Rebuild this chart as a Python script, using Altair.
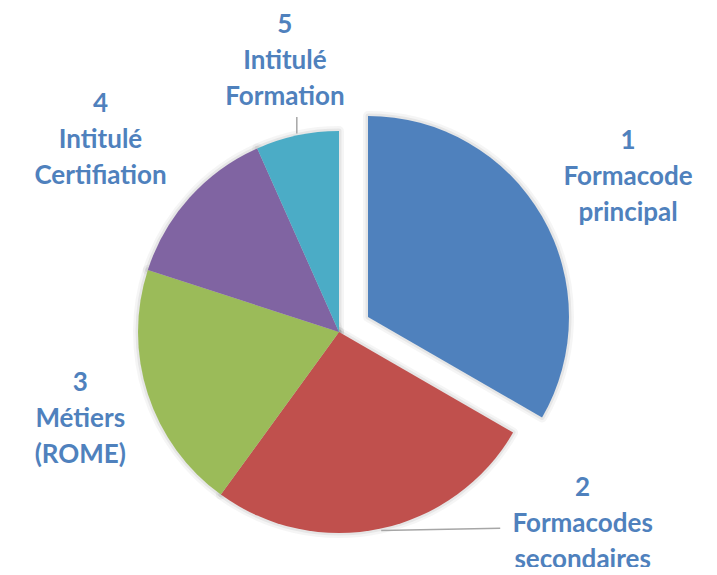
import math
import altair as alt
import pandas as pd

# ---- data ----
categories = ["1", "2", "3", "4", "5"]
values = [5, 4, 3, 2, 1]
labels = [
    "1\nFormacode\nprincipal",
    "2\nFormacodes\nsecondaires",
    "3\nMétiers\n(ROME)",
    "4\nIntitulé\nCertifiation",
    "5\nIntitulé\nFormation",
]
colors = ["#4F81BD", "#C0504D", "#9BBB59", "#8064A2", "#4BACC6"]

# ---- layout / style ----
W, H = 701, 559
CX, CY = 331, 324
R = 201
EXPLODED = "1"
EX_DX, EX_DY = 29, -15
LINE_H = 36
label_radius = [328, 310, 273, 306, 276]
label_nudge_deg = [1.8, -39.8, -0.6, -3.2, 0.7]
leader_cats = ["2", "5"]
leader_end_radius = [254, 219]
leader_end_deg = [140.6, 348.9]
LABEL_COLOR = "#4F81BD"

total = sum(values)
df = pd.DataFrame({
    "cat": categories,
    "value": values,
    "label": labels,
    "order": list(range(len(categories))),
    "lab_r": label_radius,
    "nudge": label_nudge_deg,
})
leader_df = pd.DataFrame({"cat": leader_cats, "end_r": leader_end_radius, "end_deg": leader_end_deg})

theta_scale = alt.Scale(domain=[0, total], range=[0, 2 * math.pi])
color_scale = alt.Scale(domain=categories, range=colors)

base = alt.Chart(df).transform_window(
    cum="sum(value)", sort=[alt.SortField("order")], frame=[None, 0]
).transform_calculate(
    start="datum.cum - datum.value",
    end="datum.cum",
    mid="datum.cum - datum.value / 2",
)


def slice_layers(filter_expr, cx, cy):
    b = base.transform_filter(filter_expr)
    enc = dict(
        theta=alt.Theta("start:Q", scale=theta_scale, stack=None),
        theta2=alt.Theta2("end:Q"),
        x=alt.value(cx),
        y=alt.value(cy),
    )
    sh1 = b.mark_arc(radius=R, fillOpacity=0, stroke="#000000", strokeOpacity=0.04,
                     strokeWidth=10, strokeJoin="round").encode(**enc)
    sh2 = b.mark_arc(radius=R, fillOpacity=0, stroke="#000000", strokeOpacity=0.06,
                     strokeWidth=5, strokeJoin="round").encode(**enc)
    fill = b.mark_arc(radius=R, strokeWidth=0).encode(
        color=alt.Color("cat:N", scale=color_scale, legend=None), **enc
    )
    return [sh1, sh2, fill]


rest = slice_layers(f"datum.cat != '{EXPLODED}'", CX, CY)
expl = slice_layers(f"datum.cat == '{EXPLODED}'", CX + EX_DX, CY + EX_DY)

text = base.transform_calculate(
    lab_theta=f"datum.mid + datum.nudge * {total} / 360"
).mark_text(
    lineBreak="\n", font="Lato", fontWeight="bold", fontSize=26,
    lineHeight=LINE_H, dy=-LINE_H, color=LABEL_COLOR, align="center", baseline="middle",
).encode(
    theta=alt.Theta("lab_theta:Q", scale=theta_scale, stack=None),
    radius=alt.Radius("lab_r:Q", scale=None),
    text="label:N",
    x=alt.value(CX),
    y=alt.value(CY),
)

leaders = base.transform_lookup(
    lookup="cat", from_=alt.LookupData(leader_df, "cat", ["end_r", "end_deg"])
).transform_filter("isValid(datum.end_r)").transform_calculate(
    a1=f"datum.mid / {total} * 2 * PI",
    a2="datum.end_deg * PI / 180",
).transform_calculate(
    lx1=f"{CX} + {R + 2} * sin(datum.a1)",
    ly1=f"{CY} - {R + 2} * cos(datum.a1)",
    lx2=f"{CX} + datum.end_r * sin(datum.a2)",
    ly2=f"{CY} - datum.end_r * cos(datum.a2)",
).mark_rule(color="#A6A6A6", strokeWidth=1.5).encode(
    x=alt.X("lx1:Q", scale=None),
    y=alt.Y("ly1:Q", scale=None),
    x2="lx2:Q",
    y2="ly2:Q",
)

chart = alt.layer(*rest, *expl, leaders, text).properties(
    width=W, height=H, autosize=alt.AutoSizeParams(type="none"), padding=0
).configure_view(stroke=None)

chart.save("out.html", embed_options={"renderer": "svg", "actions": False})
